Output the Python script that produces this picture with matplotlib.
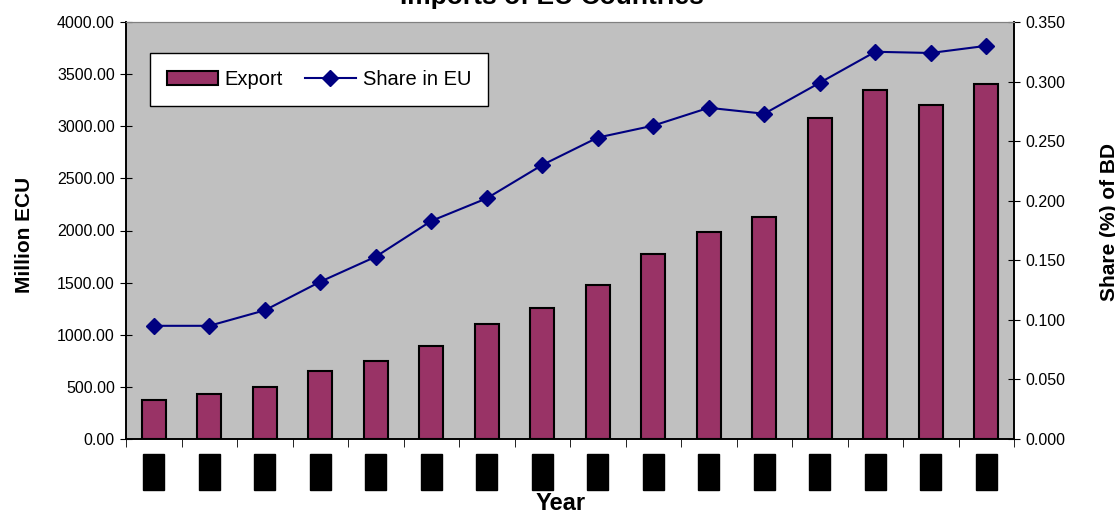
import matplotlib
matplotlib.use('Agg')
import matplotlib.pyplot as plt
from matplotlib.patches import Patch
from matplotlib.lines import Line2D
from matplotlib.ticker import FormatStrFormatter
import numpy as np

plt.rcParams['font.family'] = ['Liberation Sans', 'DejaVu Sans']

# year labels are blacked out in the source, years are a guess
years = [str(y) for y in range(1981, 1997)]
export = [374, 429, 502, 655, 748, 895, 1103, 1257, 1477, 1775, 1985, 2130, 3079, 3348, 3204, 3405]
share = [0.095, 0.095, 0.108, 0.132, 0.153, 0.183, 0.202, 0.230, 0.253, 0.263,
         0.278, 0.273, 0.299, 0.325, 0.324, 0.330]

BAR = '#993366'
LINE = '#000080'

fig = plt.figure(figsize=(11.15, 5.14), dpi=100)
ax = fig.add_axes([126/1115, 75/514, 888/1115, 417/514])
x = np.arange(len(years))

ax.bar(x, export, width=0.43, color=BAR, edgecolor='black', linewidth=1.5, zorder=2)
ax.set_facecolor('#C0C0C0')
ax.set_xlim(-0.5, len(years) - 0.5)
ax.set_ylim(0, 4000)
ax.set_yticks(np.arange(0, 4001, 500))
ax.yaxis.set_major_formatter(FormatStrFormatter('%.2f'))
ax.tick_params(axis='y', direction='inout', length=8, labelsize=11.5, pad=4)

# year labels (rendered as black blocks in the reference)
ax.set_xticks(x)
ax.set_xticklabels(years, rotation=90, fontsize=8, color='black',
                   bbox=dict(boxstyle='square,pad=0.5', facecolor='black', edgecolor='black'))
ax.tick_params(axis='x', which='major', length=0, pad=15)
ax.set_xticks(np.arange(-0.5, len(years)), minor=True)
ax.tick_params(axis='x', which='minor', direction='out', length=6)

ax2 = ax.twinx()
ax2.plot(x, share, color=LINE, marker='D', markersize=8, linewidth=1.5)
ax2.set_ylim(0, 0.35)
ax2.set_yticks(np.arange(0, 0.351, 0.05))
ax2.yaxis.set_major_formatter(FormatStrFormatter('%.3f'))
ax2.tick_params(axis='y', direction='inout', length=8, labelsize=11.5, pad=4)

for a in (ax, ax2):
    a.spines['top'].set_color('#808080')
    for s in ('left', 'right', 'bottom'):
        a.spines[s].set_color('black')
        a.spines[s].set_linewidth(1.2)

handles = [Patch(facecolor=BAR, edgecolor='black', linewidth=1.5, label='Export'),
           Line2D([], [], color=LINE, marker='D', markersize=8, linewidth=1.5, label='Share in EU')]
leg = ax2.legend(handles=handles, loc='upper left', bbox_to_anchor=(0.016, 0.95), ncol=2,
                 frameon=True, fancybox=False, edgecolor='black', framealpha=1,
                 fontsize=14.5, handlelength=2.5, handletextpad=0.35, columnspacing=1.1,
                 borderpad=0.85)
leg.get_frame().set_linewidth(1.0)

fig.text(552/1115, 1 - 4/514, 'Imports of EU Countries', ha='center', va='baseline',
         fontsize=19, fontweight='bold')
fig.text(15/1115, 1 - 235/514, 'Million ECU', ha='left', va='center', rotation=90,
         fontsize=15, fontweight='bold')
fig.text(1100/1115, 1 - 222/514, 'Share (%) of BD', ha='left', va='center', rotation=90,
         fontsize=15, fontweight='bold')
fig.text(561/1115, 1 - 503/514, 'Year', ha='center', va='center',
         fontsize=17, fontweight='bold')

fig.savefig('out.png', dpi=100)
